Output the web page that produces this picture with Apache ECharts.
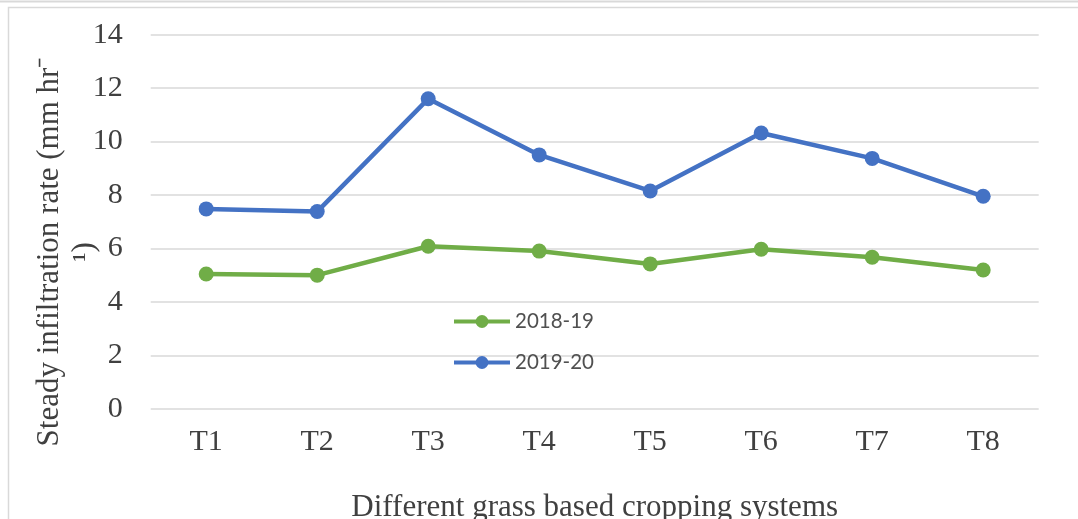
<!DOCTYPE html>
<html>
<head>
<meta charset="utf-8">
<script src="https://cdn.jsdelivr.net/npm/echarts@6/dist/echarts.min.js"></script>
<style>
html,body{margin:0;padding:0;background:#fff;}
#c{width:1078px;height:519px;}
</style>
</head>
<body>
<div id="c"></div>
<script>
const categories = ['T1','T2','T3','T4','T5','T6','T7','T8'];
const s2018 = [5.04, 5.0, 6.08, 5.9, 5.42, 5.97, 5.67, 5.19];
const s2019 = [7.48, 7.38, 11.6, 9.5, 8.15, 10.32, 9.37, 7.95];
const yTicks = {min: 0, max: 14, interval: 2};
const xTitle = 'Different grass based cropping systems';
const yTitle1 = 'Steady infiltration rate (mm hr\u207B';
const yTitle2 = '\u00B9)';

const chart = echarts.init(document.getElementById('c'));
const serif = '"Liberation Serif", "Times New Roman", serif';
chart.setOption({
  animation: false,
  backgroundColor: '#fff',
  grid: {left: 150.7, right: 39.3, top: 34.7, bottom: 110.3, containLabel: false, outerBoundsMode: 'none'},
  legend: {
    orient: 'vertical',
    left: 447, top: 306,
    itemWidth: 56, itemHeight: 16, itemGap: 20,
    lineStyle: {width: 4},
    textStyle: {fontFamily: 'Lato, "Open Sans", sans-serif', fontSize: 20.5, color: '#505050'},
    data: ['2018-19', '2019-20']
  },
  xAxis: {
    type: 'category',
    data: categories,
    axisLine: {show: false},
    axisTick: {show: false},
    axisLabel: {fontFamily: serif, fontSize: 30, color: '#404040', margin: 18},
    name: xTitle,
    nameLocation: 'middle',
    nameGap: 84,
    nameTextStyle: {fontFamily: serif, fontSize: 31, color: '#404040'}
  },
  yAxis: {
    type: 'value',
    min: yTicks.min, max: yTicks.max, interval: yTicks.interval,
    axisLine: {show: false},
    axisTick: {show: false},
    splitLine: {lineStyle: {color: '#d9d9d9', width: 1.5}},
    axisLabel: {fontFamily: serif, fontSize: 30, color: '#404040', margin: 28}
  },
  graphic: [
    {type: 'rect', shape: {x: 8.5, y: 7.5, width: 1200, height: 700}, style: {fill: 'none', stroke: '#d9d9d9', lineWidth: 1.5}, silent: true},
    {type: 'line', shape: {x1: 0, y1: 1.5, x2: 1078, y2: 1.5}, style: {stroke: '#d9d9d9', lineWidth: 2}, silent: true},
    {type: 'text', x: 50, y: 252, rotation: Math.PI/2, style: {text: yTitle1, font: '31px ' + serif, fill: '#404040', textAlign: 'center', textVerticalAlign: 'middle'}},
    {type: 'text', x: 85, y: 252, rotation: Math.PI/2, style: {text: yTitle2, font: '31px ' + serif, fill: '#404040', textAlign: 'center', textVerticalAlign: 'middle'}}
  ],
  series: [
    {name: '2018-19', type: 'line', data: s2018, symbol: 'circle', symbolSize: 15,
     itemStyle: {color: '#70AD47'}, lineStyle: {width: 4.5, color: '#70AD47'}},
    {name: '2019-20', type: 'line', data: s2019, symbol: 'circle', symbolSize: 15,
     itemStyle: {color: '#4472C4'}, lineStyle: {width: 4.5, color: '#4472C4'}}
  ]
});
</script>
</body>
</html>
